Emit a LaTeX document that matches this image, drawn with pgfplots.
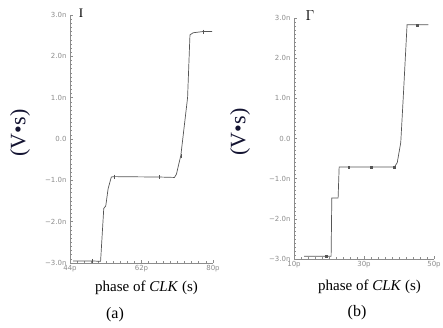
\documentclass[border=0pt]{standalone}
\usepackage{pgfplots}
\pgfplotsset{compat=1.18}
\usepackage{fontspec}
\setmainfont{Liberation Serif}
\newfontfamily\tickfont{DejaVu Sans}
\definecolor{axgray}{RGB}{140,140,140}
\definecolor{curve}{RGB}{85,85,85}
\definecolor{labcol}{RGB}{20,20,50}
\pgfplotsset{
  common/.style={
    scale only axis,
    anchor=south west,
    axis x line=bottom, axis y line=left,
    axis line style={axgray,-, line width=0.6pt},
    tick align=inside,
    major tick length=3pt, minor tick length=1.8pt,
    every tick/.style={axgray, line width=0.5pt},
    ymin=-3, ymax=3,
    ytick={-3,-2,-1,0,1,2,3},
    yticklabels={−3.0n,−2.0n,−1.0n,0.0,1.0n,2.0n,3.0n},
    minor y tick num=9,
    minor x tick num=9,
    ticklabel style={font=\tickfont\fontsize{7}{8}\selectfont, text=axgray},
    xticklabel style={yshift=1pt},
    clip=false,
  }
}
\begin{document}
\begin{tikzpicture}[x=1pt,y=1pt]
\useasboundingbox (0,0) rectangle (443,328);
% (a)
\begin{axis}[common, at={(70pt,65pt)}, width=143pt, height=248pt,
  xmin=44, xmax=80, xtick={44,62,80}, xticklabels={44p,62p,80p}]
\addplot[curve, line width=0.7pt] coordinates {
(44.8,-2.95) (49.5,-2.95) (51.7,-2.96) (52.5,-1.68) (53.0,-1.62) (53.6,-1.2)
(54.4,-0.92) (55.1,-0.91) (60,-0.915) (66.5,-0.92) (70.3,-0.93) (70.8,-0.85)
(71.4,-0.6) (71.9,-0.4) (73.6,1.0) (74.2,2.52) (75,2.57) (77.5,2.6) (79.8,2.6)};
\addplot[only marks, mark=|, mark size=2pt, curve, line width=0.5pt] coordinates {
(49.5,-2.95) (55.1,-0.91) (66.5,-0.92) (71.9,-0.4) (77.5,2.6)};
\end{axis}
% (b)
\begin{axis}[common, at={(294pt,69pt)}, width=140pt, height=241pt,
  xmin=10, xmax=50, xtick={10,30,50}, xticklabels={10p,30p,50p}]
\addplot[curve, line width=0.7pt] coordinates {
(12.9,-2.93) (19.1,-2.93) (20.6,-2.93) (20.8,-1.48) (22.6,-1.48) (22.9,-0.71)
(25.6,-0.71) (32,-0.71) (38.7,-0.71) (39.5,-0.6) (40.5,-0.1) (41.2,1.0)
(42.3,2.83) (45.1,2.83) (48.4,2.83)};
\addplot[only marks, mark=square*, mark size=0.9pt, curve] coordinates {
(19.1,-2.93) (25.6,-0.71) (32,-0.71) (38.7,-0.71) (45.1,2.83)};
\end{axis}
% cursors
\node[font=\fontsize{13}{13}\selectfont] at (81,315) {I};
\node[font=\fontsize{14}{14}\selectfont] at (310,312) {$\Gamma$};
% y labels
\node[rotate=90, font=\fontsize{22}{22}\selectfont, text=labcol] at (20,195) {(V\textbullet s)};
\node[rotate=90, font=\fontsize{22}{22}\selectfont, text=labcol] at (240,196) {(V\textbullet s)};
% x labels
\node[font=\fontsize{15}{15}\selectfont] at (146.5,40) {phase of \textit{CLK} (s)};
\node[font=\fontsize{15}{15}\selectfont] at (369.5,41) {phase of \textit{CLK} (s)};
\node[font=\fontsize{16}{16}\selectfont] at (115,13) {(a)};
\node[font=\fontsize{16}{16}\selectfont] at (357,15) {(b)};
\end{tikzpicture}
\end{document}
